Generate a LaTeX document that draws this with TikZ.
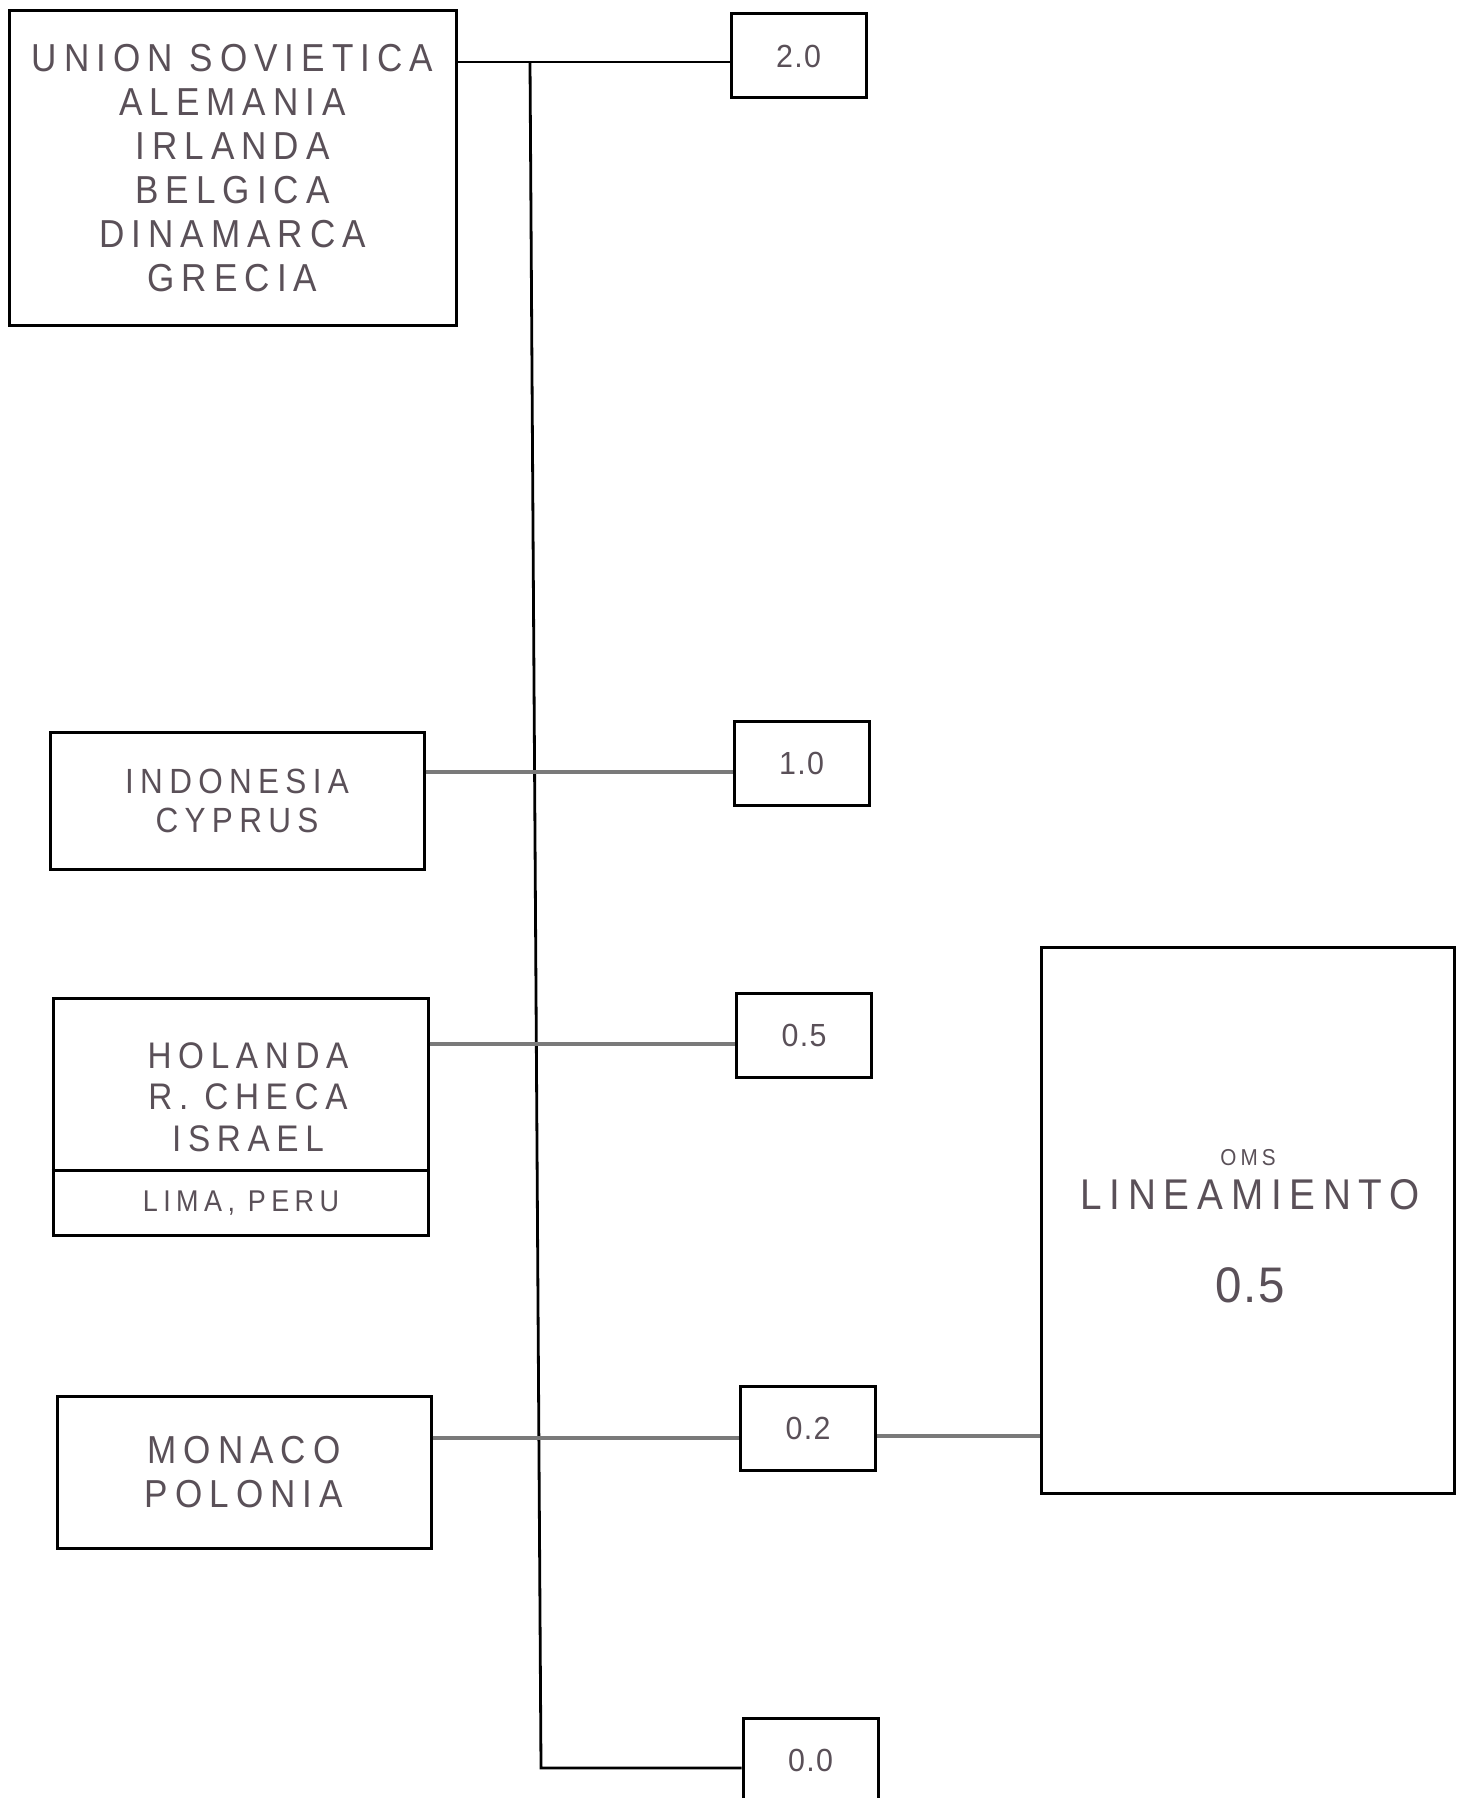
\documentclass[tikz,border=0pt]{standalone}
\usepackage{fontspec}
\setmainfont{Liberation Sans}[FakeStretch=0.9,LetterSpace=18]
\newfontfamily\lnfont{Liberation Sans}[FakeStretch=0.9,LetterSpace=18]
\newfontfamily\nmfont{Liberation Sans}[FakeStretch=0.95,LetterSpace=4]
\definecolor{txt}{HTML}{5A5058}
\definecolor{conn}{HTML}{7A7A7A}
\begin{document}
\begin{tikzpicture}[x=1pt,y=-1pt,
  box/.style={draw=black,line width=3pt,rectangle,inner sep=0pt,align=center,text=txt},
  numbox/.style={box,minimum width=135pt,minimum height=84pt,font=\nmfont\fontsize{32}{36}\selectfont},
  lbl/.style={inner sep=0pt,align=center,text=txt},
  trunk/.style={draw=black,line width=2.8pt},
  link/.style={draw=conn,line width=3.2pt}]
\useasboundingbox (0,0) rectangle (1460,1798);
\fill[white] (0,0) rectangle (1460,1798);

% left boxes
\node[box,minimum width=447pt,minimum height=314pt,font=\fontsize{39}{44}\selectfont] (ussr) at (232.5,168)
  {UNION SOVIETICA\\ALEMANIA\\IRLANDA\\BELGICA\\DINAMARCA\\GRECIA};
\node[box,minimum width=374pt,minimum height=137pt,font=\fontsize{35}{39}\selectfont] (ind) at (237,800.5)
  {INDONESIA\\CYPRUS};
\node[box,minimum width=375pt,minimum height=237pt] (hol) at (240.5,1116.5) {};
\node[lbl,font=\fontsize{37}{41.5}\selectfont] (holt) at (248,1097) {HOLANDA\\R. CHECA\\ISRAEL};
\node[lbl,font=\fontsize{30}{34}\selectfont] (lima) at (241,1203) {LIMA, PERU};
\coordinate (div) at (0,1170);
\draw[line width=3pt] (hol.west |- div) -- (hol.east |- div);
\node[box,minimum width=374pt,minimum height=152pt,font=\fontsize{39}{44}\selectfont] (mon) at (244,1472)
  {MONACO\\POLONIA};

% number boxes
\node[numbox] (b20) at (798.5,56) {2.0};
\node[numbox] (b10) at (801.5,763) {1.0};
\node[numbox] (b05) at (804,1035) {0.5};
\node[numbox] (b02) at (808,1428) {0.2};
\node[numbox] (b00) at (810.5,1760) {0.0};

% OMS box
\node[box,minimum width=413pt,minimum height=546pt] (oms) at (1247.5,1220) {};
\node[lbl,font=\fontsize{23}{25}\selectfont] (omst) at (1248,1158) {OMS};
\node[lbl,font=\lnfont\fontsize{43}{48}\selectfont] (linea) at (1250,1195) {LINEAMIENTO};
\node[lbl,font=\nmfont\fontsize{50}{54}\selectfont] (omsv) at (1250,1285) {0.5};

% trunk and connectors
\coordinate (ttop) at (530,62);
\coordinate (tbot) at (541,1768);
\draw[trunk] (ussr.east |- ttop) -- (b20.west |- ttop);
\draw[trunk] (ttop) -- (tbot) -- (b00.west |- tbot);
\coordinate (y10) at (0,772);
\coordinate (y05) at (0,1044);
\coordinate (y02) at (0,1438);
\coordinate (yom) at (0,1436);
\draw[link] (ind.east |- y10) -- (b10.west |- y10);
\draw[link] (hol.east |- y05) -- (b05.west |- y05);
\draw[link] (mon.east |- y02) -- (b02.west |- y02);
\draw[link] (b02.east |- yom) -- (oms.west |- yom);
\end{tikzpicture}
\end{document}
